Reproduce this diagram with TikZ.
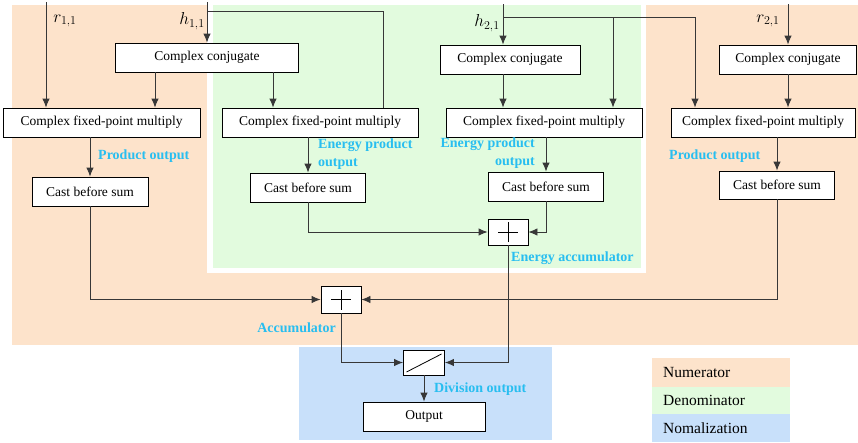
\documentclass[tikz,border=0pt]{standalone}
\usepackage{fontspec}
\setmainfont{Liberation Serif}
\usepackage{tikz}
\usetikzlibrary{arrows.meta}
\definecolor{numbg}{RGB}{253,227,203}
\definecolor{denbg}{RGB}{226,251,222}
\definecolor{normbg}{RGB}{200,224,250}
\definecolor{lblcyan}{RGB}{40,190,240}
\definecolor{wire}{RGB}{55,55,55}
\newcommand{\blkfont}{\fontsize{13.5}{16}\selectfont}
\newcommand{\lblfont}{\fontsize{14}{17.5}\selectfont\bfseries}
\newcommand{\legfont}{\fontsize{15.5}{18}\selectfont}
\newcommand{\symfont}{\fontsize{17.5}{20}\selectfont}
\tikzset{
  blk/.style={draw, line width=0.9pt, fill=white, minimum height=29pt, inner sep=0pt, font=\blkfont},
  sumblk/.style={draw, line width=0.9pt, fill=white, minimum width=40pt, minimum height=26pt, inner sep=0pt,
    path picture={\draw[line width=0.8pt] ([xshift=-10pt]path picture bounding box.center) -- ([xshift=10pt]path picture bounding box.center)
      ([yshift=-10pt]path picture bounding box.center) -- ([yshift=10pt]path picture bounding box.center);}},
  divblk/.style={draw, line width=0.9pt, fill=white, minimum width=41pt, minimum height=25pt, inner sep=0pt,
    path picture={\draw[line width=0.8pt] ([shift={(3pt,3pt)}]path picture bounding box.south west) -- ([shift={(-3pt,-4pt)}]path picture bounding box.north east);}},
  lbl/.style={text=lblcyan, font=\lblfont, inner sep=0pt},
  legtxt/.style={font=\legfont, inner sep=0pt, anchor=west},
  wirestyle/.style={draw=wire, line width=0.9pt}
}

\begin{document}
\begin{tikzpicture}[x=1pt,y=-1pt,>={Latex[length=9pt,width=7.5pt]}]
\useasboundingbox (0,0) rectangle (858,442);
\fill[numbg] (12,5) rectangle (858,345);
\fill[white] (207,5) rectangle (646,273);
\fill[denbg] (213,5) rectangle (641,268);
\fill[normbg] (299,347) rectangle (552,440);

\fill[numbg] (652,358) rectangle (790,387);
\fill[denbg] (652,387) rectangle (790,414);
\fill[normbg] (652,414) rectangle (790,442);
\node[legtxt] (numer) at (663,372.5) {Numerator};
\node[legtxt] (denom) at (663,400.5) {Denominator};
\node[legtxt] (norml) at (663,428) {Nomalization};

\node[blk, minimum width=183pt] (conj1) at (207,57.5) {Complex conjugate};
\node[blk, minimum width=140pt] (conj2) at (510,59.5) {Complex conjugate};
\node[blk, minimum width=137pt] (conj3) at (788,59.5) {Complex conjugate};
\node[blk, minimum width=197pt] (mul1) at (101.5,122.5) {Complex fixed-point multiply};
\node[blk, minimum width=196pt] (mul2) at (320,122.5) {Complex fixed-point multiply};
\node[blk, minimum width=196pt] (mul3) at (544,122.5) {Complex fixed-point multiply};
\node[blk, minimum width=184pt] (mul4) at (763,122.5) {Complex fixed-point multiply};
\node[blk, minimum width=116pt] (cast1) at (90,191.5) {Cast before sum};
\node[blk, minimum width=115pt] (cast2) at (308,187.5) {Cast before sum};
\node[blk, minimum width=115pt] (cast3) at (546,186.5) {Cast before sum};
\node[blk, minimum width=115pt, minimum height=28pt] (cast4) at (777,185) {Cast before sum};
\node[sumblk] (esum) at (508,232) {};
\node[sumblk, minimum height=27pt] (sum) at (341,299.5) {};
\node[divblk] (div) at (424,362.5) {};
\node[blk, minimum width=122pt] (out) at (424,416.5) {Output};

\node[font=\symfont] (r11) at (65,21) {$r_{1,1}$};
\node[font=\symfont] (h11) at (192,21) {$h_{1,1}$};
\node[font=\symfont] (h21) at (487,23) {$h_{2,1}$};
\node[font=\symfont] (r21) at (768,21) {$r_{2,1}$};

\coordinate (r11in) at (46,2);
\coordinate (h11in) at (207,2);
\coordinate (h11turn) at (383,11);
\coordinate (cj1a) at (155,0);
\coordinate (cj1b) at (273,0);
\coordinate (h21in) at (503,4);
\coordinate (h21tap) at (503,17);
\coordinate (h21m3) at (613,17);
\coordinate (h21m4) at (695,17);
\coordinate (r21in) at (788,4);

\draw[wirestyle,->] (r11in) -- (r11in |- mul1.north);
\draw[wirestyle,->] (h11in) -- (conj1.north);
\draw[wirestyle] (h11in |- h11turn) -- (h11turn) -- (h11turn |- mul2.north);
\draw[wirestyle,->] (cj1a |- conj1.south) -- (cj1a |- mul1.north);
\draw[wirestyle,->] (cj1b |- conj1.south) -- (cj1b |- mul2.north);
\draw[wirestyle,->] (cast1.north |- mul1.south) -- (cast1.north);
\draw[wirestyle,->] (cast2.north |- mul2.south) -- (cast2.north);
\draw[wirestyle,->] (cast1.south) |- (sum.west);
\draw[wirestyle,->] (cast2.south) |- (esum.west);

\draw[wirestyle,->] (h21in) -- (h21in |- conj2.north);
\draw[wirestyle] (h21tap) -- (h21m4);
\draw[wirestyle,->] (h21m3) -- (h21m3 |- mul3.north);
\draw[wirestyle,->] (h21m4) -- (h21m4 |- mul4.north);
\draw[wirestyle,->] (h21in |- conj2.south) -- (h21in |- mul3.north);
\draw[wirestyle,->] (cast3.north |- mul3.south) -- (cast3.north);
\draw[wirestyle,->] (cast3.south) |- (esum.east);

\draw[wirestyle,->] (r21in) -- (conj3.north);
\draw[wirestyle,->] (conj3.south) -- (conj3.south |- mul4.north);
\draw[wirestyle,->] (cast4.north |- mul4.south) -- (cast4.north);
\draw[wirestyle,->] (cast4.south) |- (sum.east);

\draw[wirestyle,->] (esum.south) |- (div.east);
\draw[wirestyle,->] (sum.south) |- (div.west);
\draw[wirestyle,->] (div.south) -- (out.north);

\node[lbl, anchor=west] (prod1) at (98,156) {Product output};
\node[lbl, anchor=west, align=left] (eprod1) at (318,154) {Energy product\\output};
\node[lbl, anchor=east, align=right] (eprod2) at (535,153) {Energy product\\output};
\node[lbl, anchor=west] (prod2) at (669,156) {Product output};
\node[lbl, anchor=west] (eacc) at (511,258) {Energy accumulator};
\node[lbl, anchor=east] (acc) at (336,328) {Accumulator};
\node[lbl, anchor=west] (divout) at (434,389) {Division output};
\end{tikzpicture}
\end{document}
